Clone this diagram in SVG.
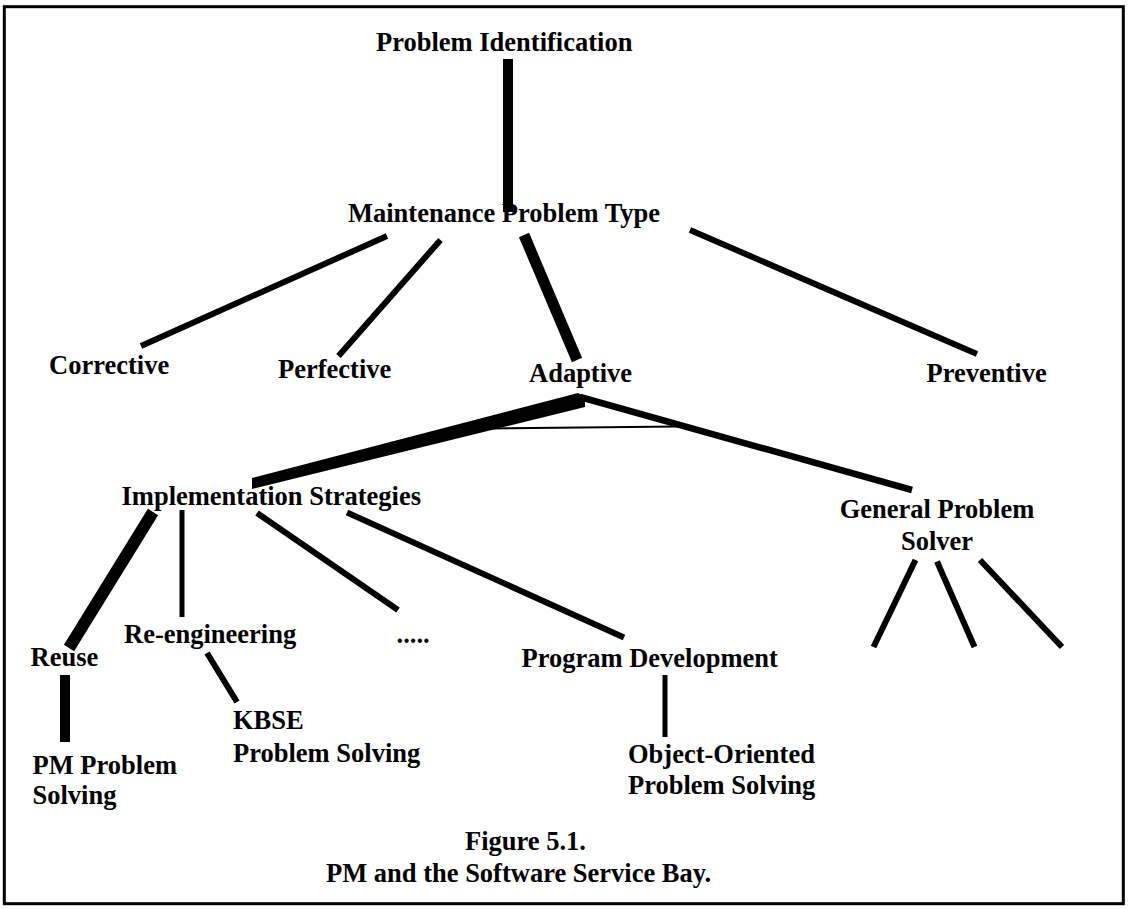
<svg xmlns="http://www.w3.org/2000/svg" width="1128" height="909" viewBox="0 0 1128 909">
  <style>
    .lbl { font-family: "Liberation Serif", "Times New Roman", serif; font-weight: bold; font-size: 26.5px; fill: #000; }
    .mid { text-anchor: middle; }
    .edge { stroke: #000; stroke-linecap: butt; fill: none; }
    .w5 { stroke-width: 5; }
    .w6 { stroke-width: 6; }
    .w10 { stroke-width: 10; }
    .w11 { stroke-width: 11; }
    .w12 { stroke-width: 12; }
  </style>

  <!-- page frame -->
  <rect x="4.3" y="6.7" width="1119" height="897" fill="#fff" stroke="#000" stroke-width="3"/>

  <!-- node labels -->
  <g id="node-problem-identification"><text class="lbl" x="376" y="51">Problem Identification</text></g>
  <g id="node-maintenance-problem-type"><text class="lbl" x="348" y="222">Maintenance Problem Type</text></g>
  <g id="node-corrective"><text class="lbl" x="49" y="374">Corrective</text></g>
  <g id="node-perfective"><text class="lbl" x="278" y="377.5">Perfective</text></g>
  <g id="node-adaptive"><text class="lbl" x="529" y="381.5">Adaptive</text></g>
  <g id="node-preventive"><text class="lbl" x="926.5" y="381.5">Preventive</text></g>
  <g id="node-implementation-strategies"><text class="lbl" x="121.5" y="505">Implementation Strategies</text></g>
  <g id="node-general-problem-solver">
    <text class="lbl mid" x="937" y="517.5">General Problem</text>
    <text class="lbl mid" x="937" y="549.5">Solver</text>
  </g>
  <g id="node-reuse"><text class="lbl" x="30.5" y="666">Reuse</text></g>
  <g id="node-re-engineering"><text class="lbl" x="124" y="642.5">Re-engineering</text></g>
  <g id="node-more"><text class="lbl" x="396.5" y="642.5">.....</text></g>
  <g id="node-program-development"><text class="lbl" x="521.5" y="666.5">Program Development</text></g>
  <g id="node-kbse">
    <text class="lbl" x="233" y="729">KBSE</text>
    <text class="lbl" x="233" y="761.5">Problem Solving</text>
  </g>
  <g id="node-pm-problem-solving">
    <text class="lbl" x="32.5" y="773.5">PM Problem</text>
    <text class="lbl" x="32.5" y="804">Solving</text>
  </g>
  <g id="node-object-oriented">
    <text class="lbl" x="628" y="762.5">Object-Oriented</text>
    <text class="lbl" x="628" y="793.5">Problem Solving</text>
  </g>

  <!-- connectors -->
  <g id="connectors">
    <line class="edge w10" x1="508" y1="59" x2="508" y2="212"/>
    <line class="edge w6" x1="387" y1="236" x2="141" y2="346"/>
    <line class="edge w6" x1="440.5" y1="240" x2="338.5" y2="356"/>
    <line class="edge w11" x1="524" y1="235" x2="577" y2="360"/>
    <line class="edge w6" x1="690" y1="230" x2="977" y2="354"/>
    <polygon fill="#000" points="252,478 578,393 585,397 585,407 252,489"/>
    <line class="edge" stroke-width="2" x1="488" y1="428.5" x2="678" y2="426.5"/>
    <line class="edge" stroke-width="6.5" x1="580" y1="397" x2="912" y2="490"/>
    <line class="edge w12" x1="153" y1="512" x2="69" y2="648"/>
    <line class="edge w5" x1="182" y1="510" x2="182" y2="617"/>
    <line class="edge w6" x1="257" y1="513" x2="398" y2="610"/>
    <line class="edge w6" x1="347" y1="512.5" x2="624" y2="637.5"/>
    <line class="edge w10" x1="65" y1="675" x2="65" y2="742"/>
    <line class="edge w6" x1="207" y1="653" x2="237" y2="702"/>
    <line class="edge w5" x1="665" y1="675" x2="665" y2="737"/>
    <line class="edge w6" x1="915.5" y1="560" x2="873.5" y2="647"/>
    <line class="edge w6" x1="937" y1="561.5" x2="974.5" y2="647"/>
    <line class="edge w6" x1="980" y1="560" x2="1062" y2="647"/>
  </g>

  <!-- caption -->
  <text class="lbl" x="465" y="850">Figure 5.1.</text>
  <text class="lbl" x="326" y="882">PM and the Software Service Bay.</text>
</svg>
